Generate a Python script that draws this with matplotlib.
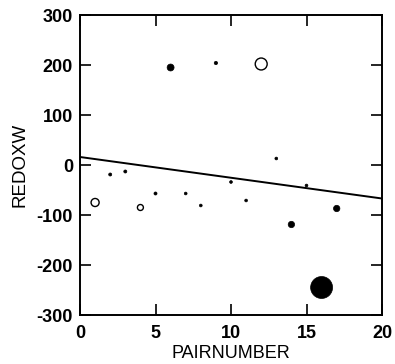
import numpy as np
import matplotlib
matplotlib.use('Agg')
import matplotlib.pyplot as plt

plt.rcParams['font.family'] = ['Liberation Sans', 'DejaVu Sans']
plt.rcParams['axes.unicode_minus'] = False

# pair number, redox value, marker diameter (pt), filled?
pair = [1, 2, 3, 4, 5, 6, 7, 8, 9, 10, 11, 12, 13, 14, 15, 16, 17]
redox = [-75, -19, -13, -85, -57, 195, -57, -81, 204, -34, -71, 202, 13, -119, -41, -245, -87]
diam = [5.8, 2.2, 2.2, 4.3, 2.2, 5.0, 2.0, 2.0, 2.4, 2.0, 2.0, 8.6, 2.0, 4.6, 2.0, 15.8, 4.6]
filled = [False, True, True, False, True, True, True, True, True, True, True, False, True, True, True, True, True]

# regression line end points
fit_x = [0, 20]
fit_y = [16, -67]

fig = plt.figure(figsize=(3.95, 3.64), dpi=100)
ax = fig.add_axes([80/395, 1-315/364, 302/395, 300/364])

pair = np.array(pair)
redox = np.array(redox)
diam = np.array(diam)
filled = np.array(filled)

ax.plot(fit_x, fit_y, color='black', lw=1.4)
ax.scatter(pair[filled], redox[filled], s=diam[filled]**2, c='black', edgecolors='black', linewidths=0.5, zorder=3)
ax.scatter(pair[~filled], redox[~filled], s=diam[~filled]**2, facecolors='white', edgecolors='black', linewidths=1.0, zorder=3)

ax.set_xlim(0, 20)
ax.set_ylim(-300, 300)
ax.set_xticks([0, 5, 10, 15, 20])
ax.set_yticks([-300, -200, -100, 0, 100, 200, 300])
ax.tick_params(direction='in', length=8, width=1.2, top=True, right=True, labelsize=13)
ax.tick_params(axis='x', pad=7)
ax.tick_params(axis='y', pad=5)
for lab in ax.get_xticklabels() + ax.get_yticklabels():
    lab.set_fontweight('bold')
for sp in ax.spines.values():
    sp.set_linewidth(1.4)

ax.set_xlabel('PAIRNUMBER', fontsize=13, labelpad=2)
ax.set_ylabel('REDOXW', fontsize=13.5, labelpad=6)

fig.savefig('out.png', dpi=100)
